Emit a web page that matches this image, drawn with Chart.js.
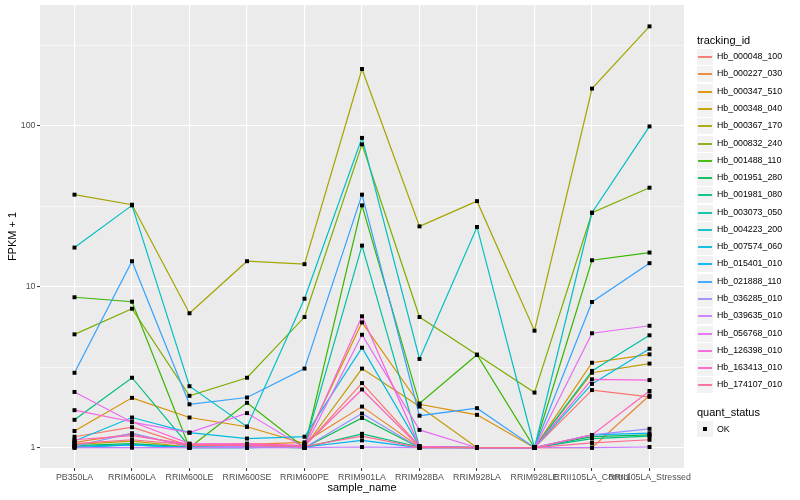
<!DOCTYPE html>
<html><head><meta charset="utf-8">
<script src="https://cdn.jsdelivr.net/npm/chart.js@4"></script>
<style>
html,body{margin:0;padding:0;background:#fff;}
#wrap{position:relative;width:800px;height:500px;font-family:"Liberation Sans",Arial,Helvetica,sans-serif;overflow:hidden;}
#c{position:absolute;left:0;top:0;}
.lt{position:absolute;left:697px;font-size:11px;line-height:13px;color:#000;white-space:nowrap;}
.key{position:absolute;left:697px;width:16px;height:16px;background:#F2F2F2;}
.kl{position:absolute;left:1px;right:1px;top:7px;height:2px;opacity:0.9;}
.kp{position:absolute;left:6px;top:6px;width:4px;height:4px;background:#000;}
.lx{position:absolute;left:717px;font-size:8.8px;line-height:17px;color:#000;white-space:nowrap;}
</style></head><body>
<div id="wrap"><canvas id="c" width="800" height="500"></canvas><div id="legend"></div></div>
<script>
const categories = ["PB350LA","RRIM600LA","RRIM600LE","RRIM600SE","RRIM600PE","RRIM901LA","RRIM928BA","RRIM928LA","RRIM928LE","RRII105LA_Control","RRII105LA_Stressed"];
const trackingIds = ["Hb_000048_100","Hb_000227_030","Hb_000347_510","Hb_000348_040","Hb_000367_170","Hb_000832_240","Hb_001488_110","Hb_001951_280","Hb_001981_080","Hb_003073_050","Hb_004223_200","Hb_007574_060","Hb_015401_010","Hb_021888_110","Hb_036285_010","Hb_039635_010","Hb_056768_010","Hb_126398_010","Hb_163413_010","Hb_174107_010"];
const seriesColors = ["#F8766D","#EA8331","#D89000","#C09B00","#A3A500","#7CAE00","#39B600","#00BB4E","#00BF7D","#00C1A3","#00BFC4","#00BAE0","#00B0F6","#35A2FF","#9590FF","#C77CFF","#E76BF3","#FA62DB","#FF62BC","#FF6C91"];
const yMajorTicks = [1, 10, 100];
const yMinorTicks = [3.1623, 31.623, 316.23];

const hb000048_100 = [1.17, 1.34, 1.03, 1.04, 1.02, 2.52, 1.02, 1.00, 1.00, 2.28, 2.07];
const hb000227_030 = [1.08, 1.22, 1.02, 1.05, 1.08, 1.80, 1.01, 1.00, 1.00, 1.00, 2.11];
const hb000347_510 = [1.27, 2.04, 1.54, 1.35, 1.06, 6.00, 1.86, 1.60, 1.00, 3.37, 3.80];
const hb000348_040 = [1.05, 1.10, 1.01, 1.02, 1.01, 3.10, 1.80, 1.00, 1.00, 2.92, 3.33];
const hb000367_170 = [37.3, 32.3, 6.84, 14.4, 13.8, 225, 23.7, 34.0, 5.33, 170, 414];
const hb000832_240 = [5.06, 7.30, 2.10, 2.72, 6.48, 76.6, 6.48, 3.78, 2.20, 28.8, 41.2];
const hb001488_110 = [8.60, 8.07, 1.00, 1.90, 1.00, 32.0, 1.88, 3.78, 1.00, 14.6, 16.3];
const hb001951_280 = [1.03, 1.06, 1.01, 1.01, 1.00, 1.53, 1.00, 1.00, 1.00, 1.17, 1.20];
const hb001981_080 = [1.49, 2.72, 1.02, 1.01, 1.00, 1.22, 1.01, 1.00, 1.00, 1.14, 1.18];
const hb003073_050 = [1.02, 1.04, 1.00, 1.00, 1.02, 18.0, 1.01, 1.00, 1.00, 3.00, 4.99];
const hb004223_200 = [17.5, 32.0, 2.41, 1.35, 8.42, 84.0, 3.56, 23.5, 1.00, 28.8, 99.0];
const hb007574_060 = [1.10, 1.54, 1.24, 1.14, 1.17, 4.18, 1.02, 1.00, 1.00, 2.49, 4.12];
const hb015401_010 = [1.00, 1.04, 1.00, 1.00, 1.01, 1.11, 1.00, 1.00, 1.00, 1.20, 1.23];
const hb021888_110 = [2.92, 14.4, 1.86, 2.05, 3.10, 37.3, 1.58, 1.76, 1.00, 8.04, 14.0];
const hb036285_010 = [1.02, 1.23, 1.01, 1.02, 1.00, 1.63, 1.00, 1.00, 1.00, 1.20, 1.31];
const hb039635_010 = [1.00, 1.00, 1.00, 1.00, 1.00, 1.01, 1.00, 1.00, 1.00, 1.00, 1.01];
const hb056768_010 = [2.22, 1.44, 1.24, 1.64, 1.00, 5.03, 1.29, 1.00, 1.00, 5.14, 5.72];
const hb126398_010 = [1.71, 1.45, 1.06, 1.05, 1.03, 6.55, 1.02, 1.00, 1.00, 2.66, 2.63];
const hb163413_010 = [1.12, 1.19, 1.05, 1.06, 1.03, 2.30, 1.01, 1.00, 1.00, 1.20, 2.25];
const hb174107_010 = [1.06, 1.12, 1.04, 1.03, 1.02, 1.18, 1.00, 1.00, 1.00, 1.07, 1.12];

const seriesValues = [hb000048_100, hb000227_030, hb000347_510, hb000348_040, hb000367_170, hb000832_240, hb001488_110, hb001951_280, hb001981_080, hb003073_050, hb004223_200, hb007574_060, hb015401_010, hb021888_110, hb036285_010, hb039635_010, hb056768_010, hb126398_010, hb163413_010, hb174107_010];

const toPts = vals => vals.map((v, i) => ({x: i, y: v}));
const datasets = [];
seriesValues.forEach((vals, k) => {
  datasets.push({type:'line', label: trackingIds[k], data: toPts(vals), borderColor: seriesColors[k], backgroundColor: seriesColors[k], borderWidth: 1.2, pointRadius: 0, tension: 0, fill: false, order: 100 - k});
});
seriesValues.forEach((vals, k) => {
  datasets.push({type:'scatter', label: trackingIds[k] + ' OK', data: toPts(vals), showLine: false, pointStyle: 'rect', pointRadius: 2.8, pointBackgroundColor: '#000', pointBorderColor: '#000', pointBorderWidth: 0, order: 0});
});

const isMajor = v => yMajorTicks.some(m => Math.abs(m - v) < 1e-6 * m);

const bgPlugin = {
  id: 'panelBg',
  beforeDraw(chart) {
    const {ctx, chartArea: a} = chart;
    ctx.save();
    ctx.fillStyle = '#EBEBEB';
    ctx.fillRect(a.left, a.top, a.right - a.left, a.bottom - a.top);
    ctx.restore();
  }
};

new Chart(document.getElementById('c'), {
  data: {datasets},
  options: {
    responsive: false,
    animation: false,
    layout: {padding: {left: 0, right: 116, top: 5, bottom: 0}},
    plugins: {legend: {display: false}, tooltip: {enabled: false}},
    scales: {
      x: {
        type: 'linear', min: -0.6, max: 10.6, bounds: 'data',
        afterFit: s => { s.height = 32; },
        afterBuildTicks: s => { s.ticks = categories.map((_, i) => ({value: i})); },
        ticks: {autoSkip: false, maxRotation: 0, minRotation: 0, padding: 1.5, color: '#4D4D4D', font: {family: 'Liberation Sans', size: 8.8}, callback: v => categories[v]},
        grid: {color: '#FFFFFF', lineWidth: 1.1, tickLength: 3, tickColor: '#333333', tickWidth: 1},
        border: {display: false},
        title: {display: true, text: 'sample_name', color: '#000', font: {family: 'Liberation Sans', size: 11}, padding: {top: 0, bottom: 5}}
      },
      y: {
        type: 'logarithmic', min: 0.748, max: 562, bounds: 'data',
        afterFit: s => { s.width = 40; s.paddingTop = 0; s.paddingBottom = 0; },
        afterBuildTicks: s => { s.ticks = yMajorTicks.concat(yMinorTicks).sort((a, b) => a - b).map(v => ({value: v, major: isMajor(v)})); },
        ticks: {autoSkip: false, padding: 1.5, color: '#4D4D4D', font: {family: 'Liberation Sans', size: 8.8}, callback: v => isMajor(v) ? String(Math.round(v)) : ''},
        grid: {color: '#FFFFFF', lineWidth: c => isMajor(c.tick.value) ? 1.1 : 0.55, tickLength: 3, tickColor: c => isMajor(c.tick.value) ? '#333333' : 'rgba(0,0,0,0)', tickWidth: 1},
        border: {display: false},
        title: {display: true, text: 'FPKM + 1', color: '#000', font: {family: 'Liberation Sans', size: 11}, padding: {top: 6.5, bottom: 0}}
      }
    }
  },
  plugins: [bgPlugin]
});

// Legend (HTML text)
const lg = document.getElementById('legend');
let html = '<div class="lt" style="top:33.5px">tracking_id</div>';
const rowH = 17.28, row0 = 48.1;
trackingIds.forEach((id, k) => {
  const top = Math.round(row0 + k * rowH);
  html += '<div class="key" style="top:' + (top + 1) + 'px"><div class="kl" style="background:' + seriesColors[k] + '"></div></div>';
  html += '<div class="lx" style="top:' + top + 'px">' + id + '</div>';
});
html += '<div class="lt" style="top:405.8px">quant_status</div>';
html += '<div class="key" style="top:421px"><div class="kp"></div></div>';
html += '<div class="lx" style="top:420.5px">OK</div>';
lg.innerHTML = html;
</script>
</body></html>
